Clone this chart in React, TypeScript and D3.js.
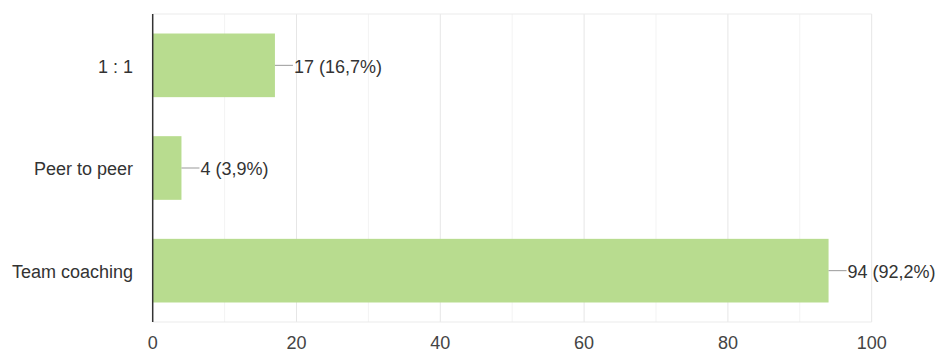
import React from "react";
import * as d3 from "d3";

const categories = ["1 : 1", "Peer to peer", "Team coaching"];
const values = [17, 4, 94];
const valueLabels = ["17 (16,7%)", "4 (3,9%)", "94 (92,2%)"];
const majorTicks = [0, 20, 40, 60, 80, 100];
const minorTicks = [10, 30, 50, 70, 90];

const W = 939;
const H = 351;
const left = 152.7;
const right = 871.7;
const top = 14;
const bottom = 322;
const FONT = "'Liberation Sans', Arial, sans-serif";

export default function App() {
  const x = d3.scaleLinear().domain([0, 100]).range([left, right]);
  const y = d3
    .scaleBand<string>()
    .domain(categories)
    .range([top, bottom])
    .paddingInner(0.38)
    .paddingOuter(0.19);

  return (
    <svg
      width={W}
      height={H}
      style={{ position: "absolute", left: 0, top: 0, background: "#fff" }}
    >
      {minorTicks.map((t) => (
        <line key={"m" + t} x1={x(t)} x2={x(t)} y1={top} y2={bottom} stroke="#f3f3f3" strokeWidth={1} />
      ))}
      {majorTicks.slice(1).map((t) => (
        <line key={"M" + t} x1={x(t)} x2={x(t)} y1={top} y2={bottom} stroke="#e6e6e6" strokeWidth={1} />
      ))}
      <line x1={left} x2={right} y1={top} y2={top} stroke="#ebebeb" strokeWidth={1} />
      <line x1={left} x2={right} y1={bottom} y2={bottom} stroke="#ebebeb" strokeWidth={1} />
      {categories.map((c, i) => {
        const by = y(c)!;
        const bh = y.bandwidth();
        const xe = x(values[i]);
        const cy = by + bh / 2;
        return (
          <g key={c}>
            <rect x={left} y={by} width={xe - left} height={bh} fill="#b8dc8f" />
            <line x1={xe} x2={xe + 18} y1={cy} y2={cy} stroke="#999" strokeWidth={1} />
            <text x={xe + 19} y={cy} dy="0.4em" fontFamily={FONT} fontSize={18} fill="#333">
              {valueLabels[i]}
            </text>
            <text x={133} y={cy} dy="0.4em" textAnchor="end" fontFamily={FONT} fontSize={18} fill="#333">
              {c}
            </text>
          </g>
        );
      })}
      <line x1={left} x2={left} y1={top} y2={bottom} stroke="#333" strokeWidth={1.5} />
      {majorTicks.map((t) => (
        <text key={"t" + t} x={x(t)} y={348.5} textAnchor="middle" fontFamily={FONT} fontSize={18} fill="#444">
          {t}
        </text>
      ))}
    </svg>
  );
}
